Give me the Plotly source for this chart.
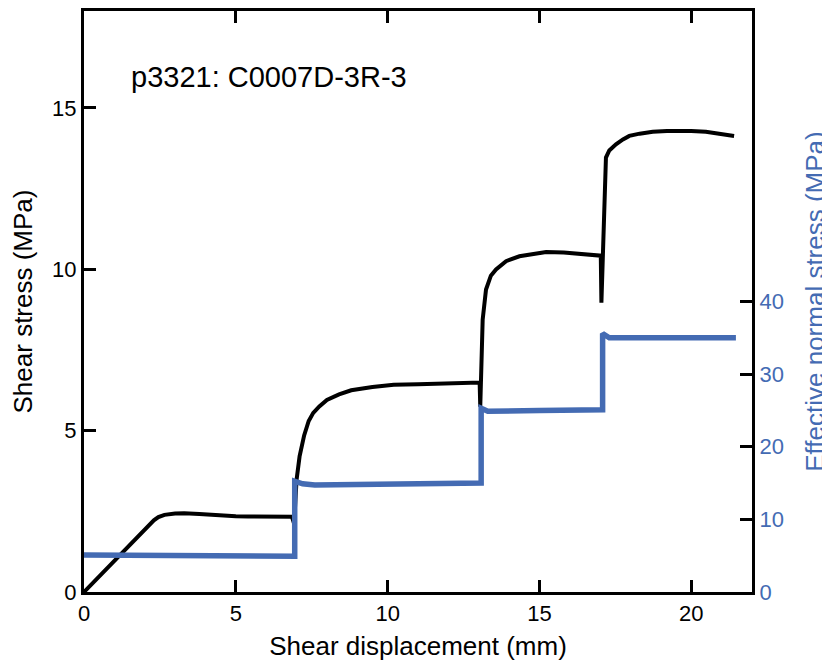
import plotly.graph_objects as go

# Shear stress curve (left axis)
shear_disp = [0, 0.5, 1.0, 1.5, 2.0, 2.3, 2.45, 2.65, 3.0, 3.3, 3.8, 4.2, 5.0, 5.4, 6.0, 6.85,
              6.92, 6.95, 7.0, 7.1, 7.25, 7.4, 7.55, 7.75, 8.0, 8.4, 8.8, 9.5, 10.2, 11.0, 11.8,
              12.5, 13.03, 13.05, 13.09, 13.13, 13.24, 13.4, 13.57, 13.9, 14.34, 14.8, 15.22,
              15.8, 16.3, 16.7, 17.02, 17.04, 17.19, 17.3, 17.52, 17.75, 17.96, 18.3, 18.73,
              19.2, 19.6, 20.0, 20.48, 21.0, 21.41]
shear_stress = [0, 0.48, 0.97, 1.46, 1.95, 2.22, 2.32, 2.39, 2.43, 2.44, 2.42, 2.39, 2.35, 2.34,
                2.33, 2.33, 2.12, 2.6, 3.47, 4.2, 4.85, 5.3, 5.55, 5.75, 5.95, 6.12, 6.25, 6.35,
                6.42, 6.44, 6.47, 6.48, 6.49, 5.74, 7.3, 8.44, 9.37, 9.8, 9.99, 10.25, 10.4,
                10.48, 10.53, 10.52, 10.49, 10.45, 10.42, 8.96, 13.46, 13.68, 13.87, 14.02,
                14.13, 14.2, 14.26, 14.28, 14.29, 14.28, 14.26, 14.2, 14.13]

# Effective normal stress (right axis)
normal_disp = [0, 2.0, 4.0, 6.0, 6.94, 6.94, 7.2, 7.6, 9.0, 11.0, 13.08, 13.08, 13.3, 15.0,
               17.08, 17.08, 17.3, 21.47]
normal_stress = [5.1, 5.0, 4.93, 4.9, 4.92, 15.25, 14.9, 14.75, 14.8, 14.9, 15.0, 25.3, 24.88,
                 25.0, 25.1, 35.6, 35.0, 35.0]

x_ticks = [0, 5, 10, 15, 20]
y_ticks = [0, 5, 10, 15]
y2_ticks = [0, 10, 20, 30, 40]

BLUE = "#446BB3"
FONT = "Liberation Sans, Arial, Helvetica, sans-serif"

fig = go.Figure()
fig.add_trace(go.Scatter(x=shear_disp, y=shear_stress, mode="lines",
                         line=dict(color="black", width=4), yaxis="y", showlegend=False))
fig.add_trace(go.Scatter(x=normal_disp, y=normal_stress, mode="lines",
                         line=dict(color=BLUE, width=5.5), yaxis="y2", showlegend=False))

axis_common = dict(showgrid=False, zeroline=False, showline=True, linecolor="black",
                   linewidth=3, ticks="inside", ticklen=12, tickwidth=2.5, tickcolor="black")

fig.update_layout(
    width=822, height=653,
    margin=dict(l=76, r=78, t=3, b=69, autoexpand=False),
    paper_bgcolor="white", plot_bgcolor="white",
    font=dict(family=FONT, size=22, color="black"),
    xaxis=dict(range=[0, 22], tickvals=x_ticks, mirror="ticks",
               title=dict(text="Shear displacement (mm)", font=dict(size=26), standoff=18),
               tickfont=dict(size=22), **axis_common),
    yaxis=dict(range=[0, 18], tickvals=y_ticks,
               title=dict(text="Shear stress (MPa)", font=dict(size=26), standoff=14),
               tickfont=dict(size=22), **axis_common),
    yaxis2=dict(range=[0, 80], tickvals=y2_ticks, overlaying="y", side="right",
                title=dict(text="Effective normal stress (MPa)", font=dict(size=26, color=BLUE),
                           standoff=30),
                tickfont=dict(size=22, color=BLUE), **axis_common),
    annotations=[dict(text="p3321: C0007D-3R-3", xref="paper", yref="paper",
                      x=0.0674, y=0.886, xanchor="left", yanchor="middle",
                      showarrow=False, font=dict(size=29, color="black"))],
)

fig.write_html("out.html")
